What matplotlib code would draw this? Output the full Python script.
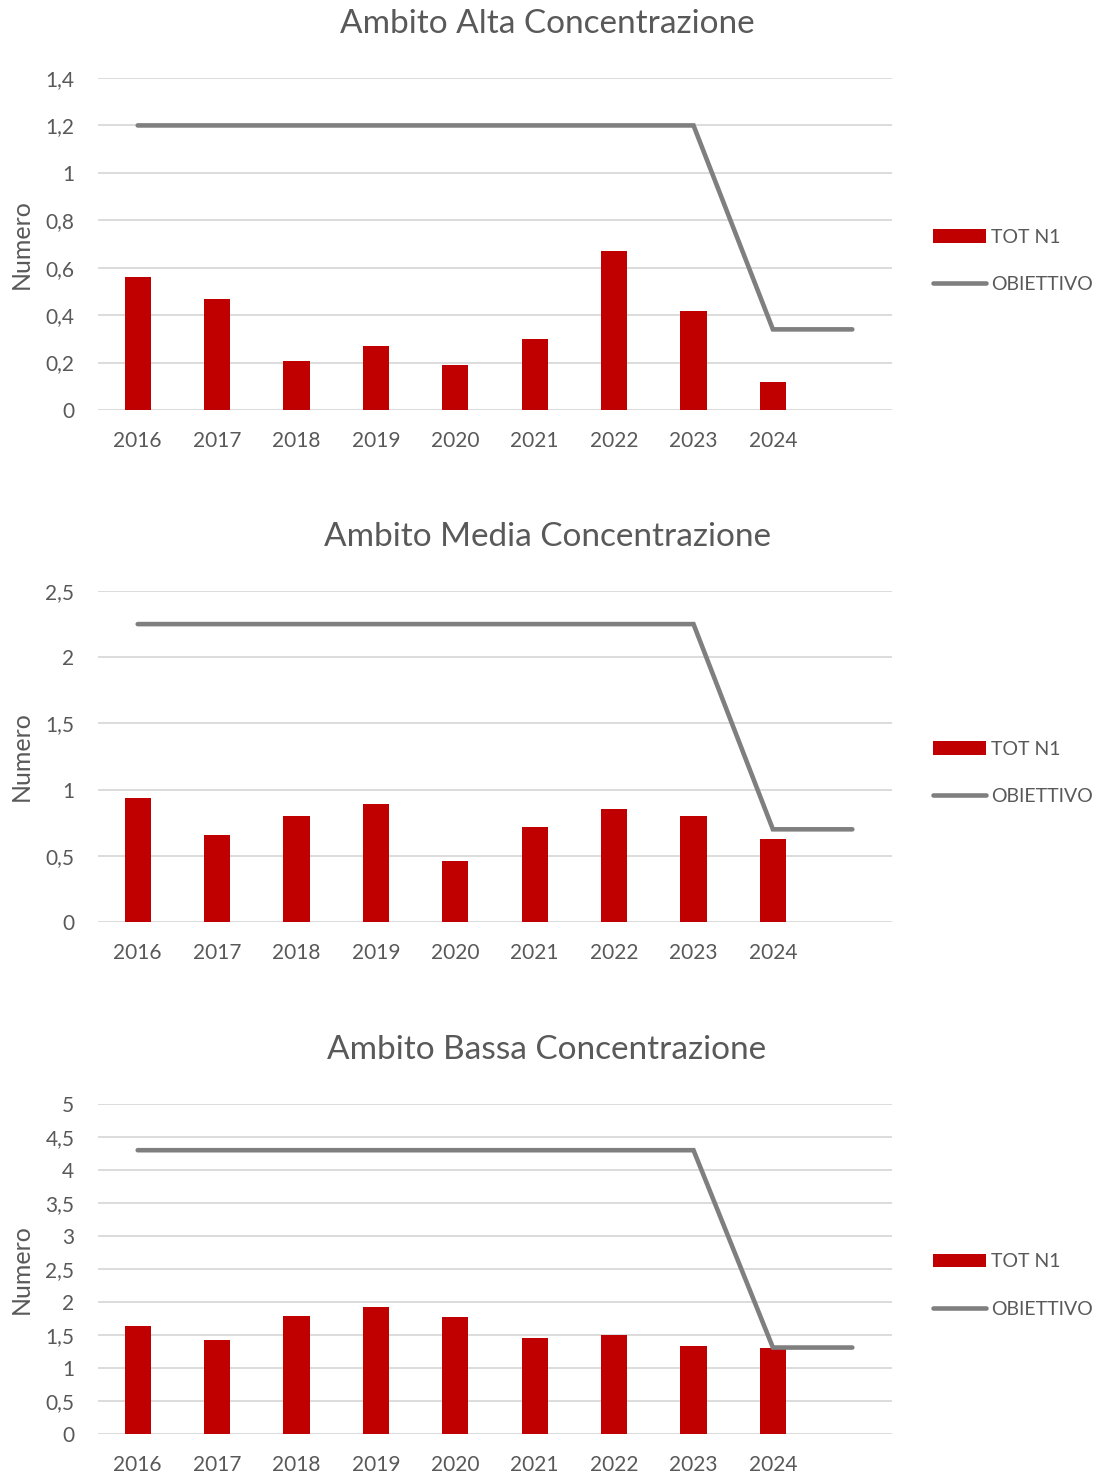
import matplotlib
matplotlib.use("Agg")
import matplotlib.pyplot as plt
import numpy as np
from matplotlib.ticker import FuncFormatter, MultipleLocator

plt.rcParams['font.family'] = ['Lato', 'DejaVu Sans']

anni = ['2016', '2017', '2018', '2019', '2020', '2021', '2022', '2023', '2024', '']

titoli = ['Ambito Alta Concentrazione', 'Ambito Media Concentrazione', 'Ambito Bassa Concentrazione']

tot_alta = [0.56, 0.47, 0.205, 0.27, 0.19, 0.30, 0.67, 0.417, 0.117]
tot_media = [0.94, 0.66, 0.80, 0.895, 0.46, 0.72, 0.85, 0.80, 0.626]
tot_bassa = [1.63, 1.42, 1.79, 1.93, 1.77, 1.45, 1.50, 1.34, 1.30]

obiettivo_alta = [1.2, 1.2, 1.2, 1.2, 1.2, 1.2, 1.2, 1.2, 0.34, 0.34]
obiettivo_media = [2.25, 2.25, 2.25, 2.25, 2.25, 2.25, 2.25, 2.25, 0.70, 0.70]
obiettivo_bassa = [4.30, 4.30, 4.30, 4.30, 4.30, 4.30, 4.30, 4.30, 1.31, 1.31]

ymax = [1.4, 2.5, 5]
ystep = [0.2, 0.5, 0.5]

rosso = '#C00000'
grigio = '#7F7F7F'
testo = '#595959'
griglia = '#D9D9D9'

W, H = 1104, 1479
fig = plt.figure(figsize=(W / 100, H / 100), dpi=100)

# pixel boxes: (top, bottom) of plot area, title y
pannelli = [(78, 410, 24), (591, 922, 537), (1104, 1434, 1050)]
left_px, right_px = 98, 892

def virgola(v, pos):
    s = ('%.1f' % v).rstrip('0').rstrip('.')
    return s.replace('.', ',')

serie = [(tot_alta, obiettivo_alta), (tot_media, obiettivo_media), (tot_bassa, obiettivo_bassa)]

for i, (tot, obj) in enumerate(serie):
    top, bot, ty = pannelli[i]
    ax = fig.add_axes([left_px / W, 1 - bot / H, (right_px - left_px) / W, (bot - top) / H])
    x = np.arange(len(anni))
    barre = ax.bar(x[:len(tot)], tot, width=0.33, color=rosso, label='TOT N1', zorder=2)
    linea, = ax.plot(x, obj, color=grigio, linewidth=3.3, label='OBIETTIVO', zorder=3,
                     solid_capstyle='round', solid_joinstyle='miter')
    ax.set_xlim(-0.5, 9.5)
    ax.set_ylim(0, ymax[i])
    ax.yaxis.set_major_locator(MultipleLocator(ystep[i]))
    ax.yaxis.set_major_formatter(FuncFormatter(virgola))
    ax.set_xticks(x)
    ax.set_xticklabels(anni)
    ax.grid(axis='y', color=griglia, linewidth=1.3, zorder=0)
    ax.set_axisbelow(True)
    for s in ax.spines.values():
        s.set_visible(False)
    ax.tick_params(axis='both', length=0, labelsize=15, labelcolor=testo)
    ax.tick_params(axis='x', pad=15)
    ax.tick_params(axis='y', pad=17)
    ax.set_ylabel('Numero', fontsize=18, color=testo)
    ax.yaxis.set_label_coords(-(left_px - 33) / (right_px - left_px), 0.5)
    ax.legend([barre, linea], ['TOT N1', 'OBIETTIVO'], loc='center left',
              bbox_to_anchor=(1.052, 0.45), frameon=False,
              fontsize=14, labelcolor=testo, handlelength=2.7, handletextpad=0.25,
              borderpad=0, borderaxespad=0, labelspacing=1.55, handleheight=0.7)
    fig.text(547 / W, 1 - ty / H, titoli[i], ha='center', va='center', fontsize=24, color=testo)

fig.savefig('out.png', dpi=100)
